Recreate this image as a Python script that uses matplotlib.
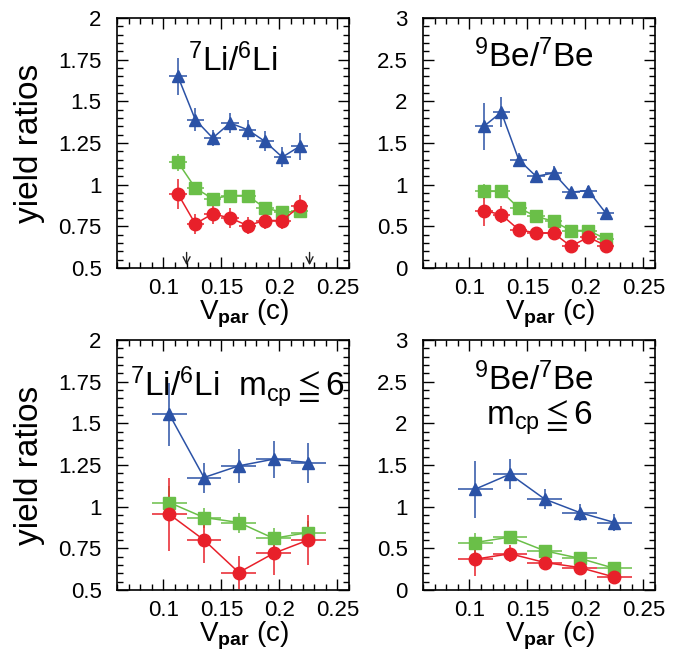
import numpy as np
import matplotlib
matplotlib.use('Agg')
import matplotlib.pyplot as plt
from matplotlib.ticker import MultipleLocator, FormatStrFormatter

plt.rcParams['font.family'] = ['Liberation Sans', 'DejaVu Sans']
plt.rcParams['mathtext.fontset'] = 'custom'
plt.rcParams['mathtext.rm'] = 'Liberation Sans'
plt.rcParams['mathtext.it'] = 'Liberation Sans:italic'
plt.rcParams['mathtext.bf'] = 'Liberation Sans:bold'
plt.rcParams['mathtext.default'] = 'rm'

BLUE = '#2b52a6'
GREEN = '#6abf48'
RED = '#e8202a'

# top row: fine bins (width 0.015)
x_fine = [0.1125, 0.1275, 0.1425, 0.1575, 0.1725, 0.1875, 0.2025, 0.2175]
# bottom row: coarse bins (width 0.03)
x_coarse = [0.105, 0.135, 0.165, 0.195, 0.225]

li_blue = [1.65, 1.39, 1.28, 1.37, 1.33, 1.26, 1.165, 1.23]
li_blue_err = [0.11, 0.07, 0.05, 0.06, 0.06, 0.06, 0.06, 0.08]
li_green = [1.135, 0.98, 0.915, 0.935, 0.935, 0.86, 0.835, 0.84]
li_green_err = [0.05, 0.03, 0.02, 0.02, 0.02, 0.02, 0.02, 0.02]
li_red = [0.945, 0.765, 0.825, 0.80, 0.755, 0.785, 0.785, 0.87]
li_red_err = [0.09, 0.06, 0.06, 0.06, 0.05, 0.05, 0.05, 0.07]

be_blue = [1.70, 1.87, 1.30, 1.10, 1.14, 0.91, 0.93, 0.66]
be_blue_err = [0.28, 0.18, 0.08, 0.06, 0.08, 0.05, 0.05, 0.04]
be_green = [0.92, 0.92, 0.72, 0.62, 0.56, 0.45, 0.45, 0.35]
be_green_err = [0.09, 0.05, 0.04, 0.03, 0.03, 0.03, 0.03, 0.03]
be_red = [0.69, 0.64, 0.46, 0.42, 0.42, 0.26, 0.37, 0.27]
be_red_err = [0.18, 0.1, 0.06, 0.04, 0.04, 0.03, 0.04, 0.03]

lim_blue = [1.555, 1.175, 1.245, 1.285, 1.265]
lim_blue_err = [0.19, 0.09, 0.10, 0.11, 0.12]
lim_green = [1.025, 0.935, 0.905, 0.81, 0.845]
lim_green_err = [0.1, 0.06, 0.06, 0.06, 0.07]
lim_red = [0.955, 0.80, 0.605, 0.72, 0.80]
lim_red_err = [0.22, 0.14, 0.1, 0.13, 0.15]

bem_blue = [1.21, 1.39, 1.09, 0.93, 0.81]
bem_blue_err = [0.34, 0.18, 0.12, 0.1, 0.1]
bem_green = [0.57, 0.635, 0.47, 0.38, 0.26]
bem_green_err = [0.12, 0.05, 0.04, 0.04, 0.03]
bem_red = [0.37, 0.435, 0.33, 0.27, 0.155]
bem_red_err = [0.2, 0.1, 0.06, 0.05, 0.04]

arrows_x = [0.12, 0.226]

fig = plt.figure(figsize=(6.91, 6.51), dpi=100)
W, H = 691, 651


def make_axes(l, t, r, b):
    return fig.add_axes([l / W, (H - b) / H, (r - l) / W, (b - t) / H])


def style(ax, ylim, ymaj, ymin, ylabel):
    ax.set_xlim(0.06, 0.26)
    ax.set_ylim(*ylim)
    ax.xaxis.set_major_locator(MultipleLocator(0.05))
    ax.xaxis.set_minor_locator(MultipleLocator(0.01))
    ax.yaxis.set_major_locator(MultipleLocator(ymaj))
    ax.yaxis.set_minor_locator(MultipleLocator(ymin))
    ax.xaxis.set_major_formatter(FormatStrFormatter('%g'))
    ax.yaxis.set_major_formatter(FormatStrFormatter('%g'))
    ax.tick_params(which='both', direction='in', top=True, right=True,
                   labelsize=16, width=1)
    ax.tick_params(which='major', length=8)
    ax.tick_params(which='minor', length=4)
    ax.tick_params(axis='x', which='major', pad=7)
    ax.tick_params(axis='y', which='major', pad=11)
    ax.set_xticks([0.1, 0.15, 0.2, 0.25])
    for s in ax.spines.values():
        s.set_linewidth(1.2)
    ax.set_xlabel(r'V$_{\mathbf{par}}$ (c)', fontsize=20)
    ax.xaxis.set_label_coords(0.55, -0.12)
    if ylabel:
        ax.set_ylabel('yield ratios', fontsize=24)
        ax.yaxis.set_label_coords(-0.31, 0.5)


def series(ax, x, xerr, y, yerr, color, marker):
    ax.errorbar(x, y, xerr=xerr, yerr=yerr, color=color, marker=marker,
                ms=9, lw=1.1, elinewidth=1.1, capsize=0, mec=color, mfc=color)


ax1 = make_axes(117, 18, 349, 268)
style(ax1, (0.5, 2), 0.25, 0.05, True)
series(ax1, x_fine, 0.0075, li_blue, li_blue_err, BLUE, '^')
series(ax1, x_fine, 0.0075, li_green, li_green_err, GREEN, 's')
series(ax1, x_fine, 0.0075, li_red, li_red_err, RED, 'o')
for xa in arrows_x:
    ax1.annotate('', xy=(xa, 0.5), xytext=(xa, 0.61),
                 arrowprops=dict(arrowstyle='->,head_width=0.25,head_length=0.5',
                                 color='#222222', lw=1))
ax1.text(0.5, 0.83, r'$^{7}$Li/$^{6}$Li', transform=ax1.transAxes,
         ha='center', va='center', fontsize=24)

ax2 = make_axes(423, 18, 655, 268)
style(ax2, (0, 3), 0.5, 0.1, False)
series(ax2, x_fine, 0.0075, be_blue, be_blue_err, BLUE, '^')
series(ax2, x_fine, 0.0075, be_green, be_green_err, GREEN, 's')
series(ax2, x_fine, 0.0075, be_red, be_red_err, RED, 'o')
ax2.text(0.48, 0.845, r'$^{9}$Be/$^{7}$Be', transform=ax2.transAxes,
         ha='center', va='center', fontsize=24)

ax3 = make_axes(117, 340, 349, 590)
style(ax3, (0.5, 2), 0.25, 0.05, True)
series(ax3, x_coarse, 0.015, lim_blue, lim_blue_err, BLUE, '^')
series(ax3, x_coarse, 0.015, lim_green, lim_green_err, GREEN, 's')
series(ax3, x_coarse, 0.015, lim_red, lim_red_err, RED, 'o')
ax3.text(0.52, 0.81, r'$^{7}$Li/$^{6}$Li  m$_{\rm cp}$$\leqq$6',
         transform=ax3.transAxes, ha='center', va='center', fontsize=24)

ax4 = make_axes(423, 340, 655, 590)
style(ax4, (0, 3), 0.5, 0.1, False)
series(ax4, x_coarse, 0.015, bem_blue, bem_blue_err, BLUE, '^')
series(ax4, x_coarse, 0.015, bem_green, bem_green_err, GREEN, 's')
series(ax4, x_coarse, 0.015, bem_red, bem_red_err, RED, 'o')
ax4.text(0.48, 0.84, r'$^{9}$Be/$^{7}$Be', transform=ax4.transAxes,
         ha='center', va='center', fontsize=24)
ax4.text(0.5, 0.69, r'm$_{\rm cp}$$\leqq$6', transform=ax4.transAxes,
         ha='center', va='center', fontsize=24)

fig.savefig('out.png', dpi=100)
